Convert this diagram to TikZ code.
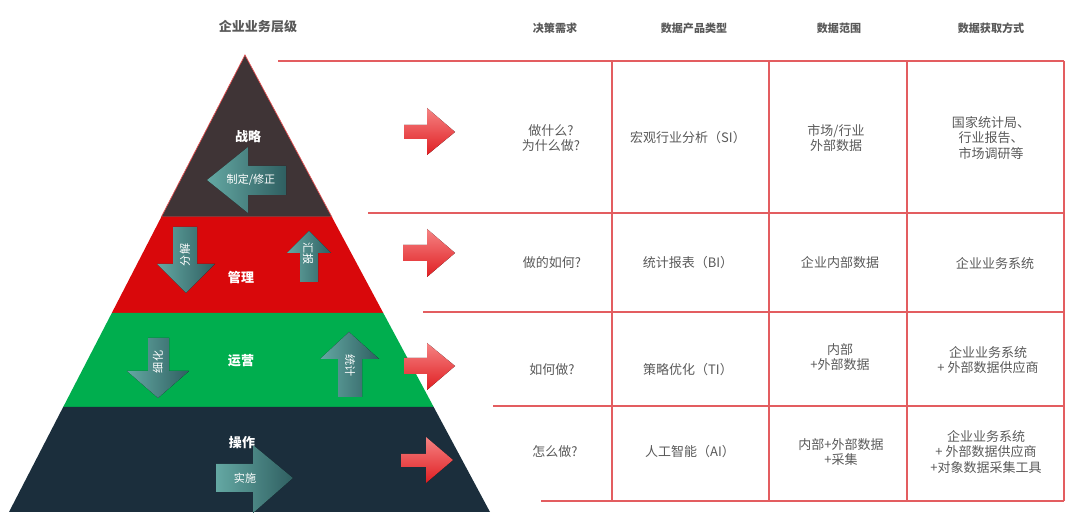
\documentclass[tikz,border=0pt]{standalone}
\usepackage{fontspec}
\setmainfont{Noto Sans CJK SC}
\usepackage{xcolor}
\usepackage{tikz}
\usetikzlibrary{positioning}

\definecolor{topbrown}{HTML}{3F3436}
\definecolor{midred}{HTML}{D9080B}
\definecolor{opgreen}{HTML}{00AE4E}
\definecolor{basenavy}{HTML}{1B2E3C}
\definecolor{tealA}{HTML}{64A8A3}
\definecolor{tealB}{HTML}{2F5F61}
\definecolor{arrowtop}{HTML}{F58383}
\definecolor{arrowbot}{HTML}{E01E22}
\definecolor{gridred}{HTML}{E35D60}
\definecolor{textgray}{HTML}{595959}

\begin{document}
\begin{tikzpicture}[
    x=0.02cm, y=-0.02cm,
    layertext/.style={text=white, font=\fontsize{7.4}{9}\selectfont\bfseries},
    flowtext/.style={text=white, inner sep=0pt, font=\fontsize{6.3}{7}\selectfont},
    flowarrow/.style={left color=tealA, right color=tealB},
    hintarrow/.style={top color=arrowtop, bottom color=arrowbot},
    gridline/.style={draw=gridred, line width=0.7pt},
    colhead/.style={text=textgray, font=\fontsize{6.3}{8}\selectfont\bfseries},
    cell/.style={text=textgray, align=center, font=\fontsize{7.4}{8.6}\selectfont}
]
\useasboundingbox (0,0) rectangle (1080,520);

% Pyramid layers
\filldraw[fill=topbrown, draw=midred!70, line width=0.4pt] (245,55) -- (331.9,217) -- (161.3,217) -- cycle;
\fill[midred] (161.3,217) -- (331.9,217) -- (383.3,313) -- (111.8,313) -- cycle;
\fill[opgreen] (111.8,313) -- (383.3,313) -- (433.7,407) -- (63.2,407) -- cycle;
\fill[basenavy] (63.2,407) -- (433.7,407) -- (490,512) -- (9,512) -- cycle;

\node[text=textgray, font=\fontsize{7.4}{9}\selectfont\bfseries] (levelTitle) at (258,27) {企业业务层级};

% Flow arrows inside the pyramid
\fill[flowarrow] (286,166) -- (248,166) -- (248,147) -- (207,180) -- (248,213) -- (248,195) -- (286,195) -- cycle;
\fill[flowarrow] (173,227) -- (197,227) -- (197,264) -- (215,264) -- (186,293) -- (157,264) -- (173,264) -- cycle;
\fill[flowarrow] (300,282) -- (318,282) -- (318,253) -- (331,253) -- (309,231) -- (287,253) -- (300,253) -- cycle;
\fill[flowarrow] (148,338) -- (169,338) -- (169,371) -- (189,371) -- (158,398) -- (127,371) -- (148,371) -- cycle;
\fill[flowarrow] (338,397) -- (362,397) -- (362,359) -- (379,359) -- (349,332) -- (320,359) -- (338,359) -- cycle;
\fill[flowarrow] (216,464) -- (253,464) -- (253,445) -- (293,478) -- (253,513) -- (253,492) -- (216,492) -- cycle;

% Layer names
\node[layertext] (strategy) at (248,137) {战略};
\node[layertext] (manage) at (241,278) {管理};
\node[layertext] (operate) at (241,361) {运营};
\node[layertext] (execute) at (242,443) {操作};

% Flow labels
\node[flowtext] (revise) at (251,180) {制定/修正};
\node[flowtext, rotate=90] (split) at (185,255) {分解};
\node[flowtext, rotate=-90] (report) at (308,254) {汇报};
\node[flowtext, rotate=90] (refine) at (158,362) {细化};
\node[flowtext, rotate=-90] (count) at (350,366) {统计};
\node[flowtext] (implement) at (245,478) {实施};

% Red arrows
\fill[hintarrow] (404,125) -- (427,125) -- (427,108) -- (455,132) -- (427,155) -- (427,139) -- (404,139) -- cycle;
\fill[hintarrow] (403,245) -- (427,245) -- (427,229) -- (455,253) -- (427,277) -- (427,261) -- (403,261) -- cycle;
\fill[hintarrow] (404,358) -- (427,358) -- (427,343) -- (455,366) -- (427,390) -- (427,374) -- (404,374) -- cycle;
\fill[hintarrow] (401,454) -- (426,454) -- (426,437) -- (453,460) -- (426,483) -- (426,467) -- (401,467) -- cycle;

% Table grid
\draw[gridline] (278,61) -- (1064,61);
\draw[gridline] (368,213) -- (1064,213);
\draw[gridline] (423,312) -- (1064,312);
\draw[gridline] (493,406) -- (1064,406);
\draw[gridline] (541,501) -- (1064,501);
\foreach \x in {612,769,907,1064}
  \draw[gridline] (\x,61) -- (\x,501);

% Column heads
\node[colhead] (hNeed) at (555,28) {决策需求};
\node[colhead] (hProduct) at (694,28) {数据产品类型};
\node[colhead] (hScope) at (839,28) {数据范围};
\node[colhead] (hSource) at (991,28) {数据获取方式};

% Row 1
\node[cell] (need1) at (551,138) {做什么?\\为什么做?};
\node[cell] (product1) at (688,138) {宏观行业分析（SI）};
\node[cell] (scope1) at (836,138) {市场/行业\\外部数据};
\node[cell] (source1) at (991,138) {国家统计局、\\行业报告、\\市场调研等};

% Row 2
\node[cell] (need2) at (552,263) {做的如何?};
\node[cell] (product2) at (688,263) {统计报表（BI）};
\node[cell] (scope2) at (840,263) {企业内部数据};
\node[cell] (source2) at (995,263) {企业业务系统};

% Row 3
\node[cell] (need3) at (552,370) {如何做?};
\node[cell] (product3) at (688,370) {策略优化（TI）};
\node[cell] (scope3) at (840,357) {内部\\+外部数据};
\node[cell] (source3) at (988,360) {企业业务系统\\+ 外部数据供应商};

% Row 4
\node[cell] (need4) at (555,452) {怎么做?};
\node[cell] (product4) at (690,452) {人工智能（AI）};
\node[cell] (scope4) at (841,452) {内部+外部数据\\+采集};
\node[cell] (source4) at (986,452) {企业业务系统\\+ 外部数据供应商\\+对象数据采集工具};

\end{tikzpicture}
\end{document}
